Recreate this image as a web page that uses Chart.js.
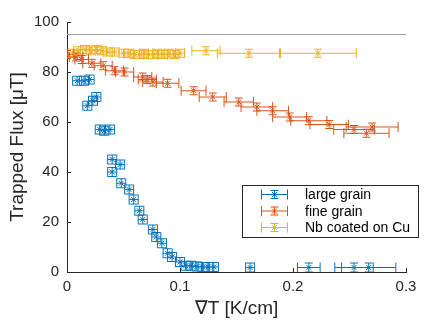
<!doctype html>
<html>
  <head>
    <meta charset="utf-8">
    <title>trapped flux vs gradient</title>
    <style>
      html, body { margin: 0; padding: 0; background: #fff; }
      #wrap { width: 424px; height: 327px; }
    </style>
    <script src="https://cdn.jsdelivr.net/npm/chart.js@4/dist/chart.umd.min.js"></script>
  </head>
  <body>
    <div id="wrap"><canvas id="fluxChart" width="424" height="327"></canvas></div>
  </body>
  <script>
    // large grain
    const largeX = [0.009, 0.015, 0.020, 0.018, 0.023, 0.026, 0.029, 0.033, 0.038, 0.040, 0.047, 0.040, 0.048, 0.055, 0.059, 0.064, 0.067, 0.076, 0.079, 0.084, 0.089, 0.093, 0.100, 0.105, 0.110, 0.115, 0.120, 0.125, 0.130, 0.162, 0.214, 0.254, 0.267];
    const largeY = [76.5, 76.5, 77, 66.5, 68.5, 70, 57, 56.5, 57, 45, 43, 40, 35.5, 33, 29, 24.5, 21, 17, 14, 11.5, 7.5, 6, 4, 2.5, 2.5, 2.2, 2, 2, 2, 1.8, 1.8, 1.8, 1.8];
    const largeXErr = [0.004, 0.004, 0.004, 0.004, 0.004, 0.004, 0.004, 0.004, 0.004, 0.004, 0.004, 0.004, 0.004, 0.004, 0.004, 0.004, 0.004, 0.004, 0.004, 0.004, 0.004, 0.004, 0.004, 0.004, 0.004, 0.004, 0.004, 0.004, 0.004, 0.004, 0.010, 0.017, 0.024];
    const largeYErr = 1.8;

    // fine grain
    const fineX = [0.000, 0.008, 0.013, 0.022, 0.032, 0.042, 0.051, 0.067, 0.071, 0.076, 0.089, 0.112, 0.129, 0.152, 0.168, 0.182, 0.197, 0.214, 0.232, 0.254, 0.265, 0.270];
    const fineY = [87, 86, 85, 83.5, 82.5, 80.5, 80, 78, 77, 76, 75.5, 72.5, 70, 68, 66, 64.5, 62, 60.5, 59, 57, 55.5, 58];
    const fineXErr = [0.006, 0.006, 0.006, 0.008, 0.008, 0.008, 0.008, 0.008, 0.008, 0.009, 0.010, 0.011, 0.012, 0.013, 0.014, 0.014, 0.015, 0.016, 0.017, 0.018, 0.020, 0.023];
    const fineYErr = 1.6;

    // Nb coated on Cu
    const coatX = [0.005, 0.010, 0.016, 0.021, 0.026, 0.031, 0.036, 0.042, 0.050, 0.055, 0.060, 0.064, 0.068, 0.072, 0.076, 0.080, 0.085, 0.090, 0.095, 0.100, 0.123, 0.161, 0.222];
    const coatY = [87.5, 88.5, 89, 88.5, 89, 88.5, 88, 88, 87.5, 87.5, 87, 87, 87.5, 87, 87, 87.5, 87, 87.5, 87, 87.5, 88.5, 87.5, 87.5];
    const coatXErr = [0.004, 0.004, 0.004, 0.004, 0.004, 0.004, 0.004, 0.004, 0.004, 0.004, 0.004, 0.004, 0.004, 0.004, 0.004, 0.004, 0.004, 0.004, 0.004, 0.004, 0.0125, 0.028, 0.034];
    const coatYErr = 1.6;

    const refLevel = 95;
    const xTicks = [0, 0.1, 0.2, 0.3];
    const yTicks = [0, 20, 40, 60, 80, 100];

    const seriesNames = ["large grain", "fine grain", "Nb coated on Cu"];
    const seriesColors = ["#0072BD", "#D95319", "#EDB120"];
    const axisColor = "#262626";

    function pts(xs, ys, xe, ye) {
	return xs.map((x, i) => ({x: x, y: ys[i], xe: xe[i], ye: ye}));
    }

    function markerSet(label, data, color) {
	return {
	    label: label,
	    data: data,
	    showLine: false,
	    pointStyle: "crossRot",
	    pointRadius: 3.5,
	    pointBorderWidth: 1,
	    borderColor: color,
	    backgroundColor: color,
	};
    }

    // horizontal + vertical error bars, drawn through the scales
    const errorBars = {
	id: "errorBars",
	beforeDatasetsDraw(chart) {
	    const ctx = chart.ctx;
	    const xs = chart.scales.x, ys = chart.scales.y;
	    const a = chart.chartArea;
	    ctx.save();
	    ctx.beginPath();
	    ctx.rect(a.left, a.top - 10, a.right - a.left + 20, a.bottom - a.top + 10);
	    ctx.clip();
	    ctx.lineWidth = 1;
	    chart.data.datasets.forEach(ds => {
		if (!ds.errors) return;
		ctx.strokeStyle = ds.borderColor;
		ds.data.forEach(p => {
		    const px = xs.getPixelForValue(p.x), py = ys.getPixelForValue(p.y);
		    const x0 = xs.getPixelForValue(p.x - p.xe), x1 = xs.getPixelForValue(p.x + p.xe);
		    const y0 = ys.getPixelForValue(p.y - p.ye), y1 = ys.getPixelForValue(p.y + p.ye);
		    ctx.beginPath();
		    ctx.moveTo(x0, py); ctx.lineTo(x1, py);
		    ctx.moveTo(x0, py - 5); ctx.lineTo(x0, py + 5);
		    ctx.moveTo(x1, py - 5); ctx.lineTo(x1, py + 5);
		    ctx.moveTo(px, y0); ctx.lineTo(px, y1);
		    ctx.moveTo(px - 4, y0); ctx.lineTo(px + 4, y0);
		    ctx.moveTo(px - 4, y1); ctx.lineTo(px + 4, y1);
		    ctx.stroke();
		});
	    });
	    ctx.restore();
	},
	afterDraw(chart) {
	    const ctx = chart.ctx;
	    const xs = chart.scales.x, ys = chart.scales.y;
	    const a = chart.chartArea;
	    ctx.save();
	    // inward tick marks
	    ctx.strokeStyle = axisColor;
	    ctx.lineWidth = 1;
	    ctx.beginPath();
	    xTicks.forEach(t => {
		const x = Math.round(xs.getPixelForValue(t)) + 0.5;
		ctx.moveTo(x, a.bottom); ctx.lineTo(x, a.bottom - 4);
	    });
	    yTicks.forEach(t => {
		const y = Math.round(ys.getPixelForValue(t)) + 0.5;
		ctx.moveTo(a.left, y); ctx.lineTo(a.left + 4, y);
	    });
	    ctx.stroke();

	    // legend box
	    const lx = 242.5, ly = 185.5, lw = 176, lh = 52;
	    ctx.fillStyle = "#fff";
	    ctx.fillRect(lx, ly, lw, lh);
	    ctx.strokeStyle = axisColor;
	    ctx.strokeRect(lx, ly, lw, lh);
	    ctx.font = "14px 'Liberation Sans', Arial, sans-serif";
	    ctx.textBaseline = "middle";
	    seriesNames.forEach((name, i) => {
		const cy = 194.5 + i * 16.5;
		const c = seriesColors[i];
		ctx.strokeStyle = c;
		ctx.beginPath();
		ctx.moveTo(261, cy); ctx.lineTo(288, cy);
		ctx.moveTo(261.5, cy - 5); ctx.lineTo(261.5, cy + 5);
		ctx.moveTo(287.5, cy - 5); ctx.lineTo(287.5, cy + 5);
		ctx.moveTo(274.5, cy - 4); ctx.lineTo(274.5, cy + 4);
		ctx.moveTo(270.5, cy - 4); ctx.lineTo(278.5, cy - 4);
		ctx.moveTo(270.5, cy + 4); ctx.lineTo(278.5, cy + 4);
		ctx.moveTo(272, cy - 2.5); ctx.lineTo(277, cy + 2.5);
		ctx.moveTo(272, cy + 2.5); ctx.lineTo(277, cy - 2.5);
		ctx.stroke();
		ctx.fillStyle = "#000";
		ctx.fillText(name, 305, cy + 1);
	    });
	    ctx.restore();
	}
    };

    const large = markerSet(seriesNames[0], pts(largeX, largeY, largeXErr, largeYErr), seriesColors[0]);
    large.errors = true;
    const fine = markerSet(seriesNames[1], pts(fineX, fineY, fineXErr, fineYErr), seriesColors[1]);
    fine.errors = true;
    const coat = markerSet(seriesNames[2], pts(coatX, coatY, coatXErr, coatYErr), seriesColors[2]);
    coat.errors = true;

    const ctx = document.getElementById("fluxChart");
    const fluxChart = new Chart(ctx, {
	type: "scatter",
	data: {
	    datasets: [
		{
		    label: "reference",
		    type: "line",
		    data: [{x: xTicks[0], y: refLevel}, {x: xTicks[xTicks.length - 1], y: refLevel}],
		    borderColor: "#a0a0a0",
		    borderWidth: 1,
		    pointRadius: 0,
		    fill: false,
		    order: 5,
		},
		coat, fine, large
	    ]
	},
	plugins: [errorBars],
	options: {
	    responsive: false,
	    animation: false,
	    events: [],
	    layout: { padding: { left: 0, top: 22, right: 18, bottom: 0 } },
	    plugins: {
		legend: { display: false },
		tooltip: { enabled: false },
	    },
	    scales: {
		x: {
		    type: "linear",
		    min: 0, max: 0.3,
		    afterBuildTicks: s => { s.ticks = xTicks.map(v => ({value: v})); },
		    afterFit: s => { s.height = 55; },
		    grid: { drawOnChartArea: false, drawTicks: false },
		    border: { color: axisColor, width: 1 },
		    ticks: {
			padding: 6,
			color: axisColor,
			font: { family: "'Liberation Sans', Arial, sans-serif", size: 15 },
			callback: v => String(+v.toFixed(1)),
			maxRotation: 0,
		    },
		    title: {
			display: true,
			text: "\u2207T [K/cm]",
			color: axisColor,
			font: { family: "'Liberation Sans', Arial, sans-serif", size: 19 },
			padding: { top: 0, bottom: 7 },
		    },
		},
		y: {
		    type: "linear",
		    min: 0, max: 100,
		    afterBuildTicks: s => { s.ticks = yTicks.map(v => ({value: v})); },
		    afterFit: s => { s.width = 67; },
		    grid: { drawOnChartArea: false, drawTicks: false },
		    border: { color: axisColor, width: 1 },
		    ticks: {
			padding: 8,
			color: axisColor,
			font: { family: "'Liberation Sans', Arial, sans-serif", size: 15 },
		    },
		    title: {
			display: true,
			text: "Trapped Flux [\u03bcT]",
			color: axisColor,
			font: { family: "'Liberation Sans', Arial, sans-serif", size: 19 },
			padding: { top: 6, bottom: 0 },
		    },
		},
	    },
	},
    });
  </script>
</html>
